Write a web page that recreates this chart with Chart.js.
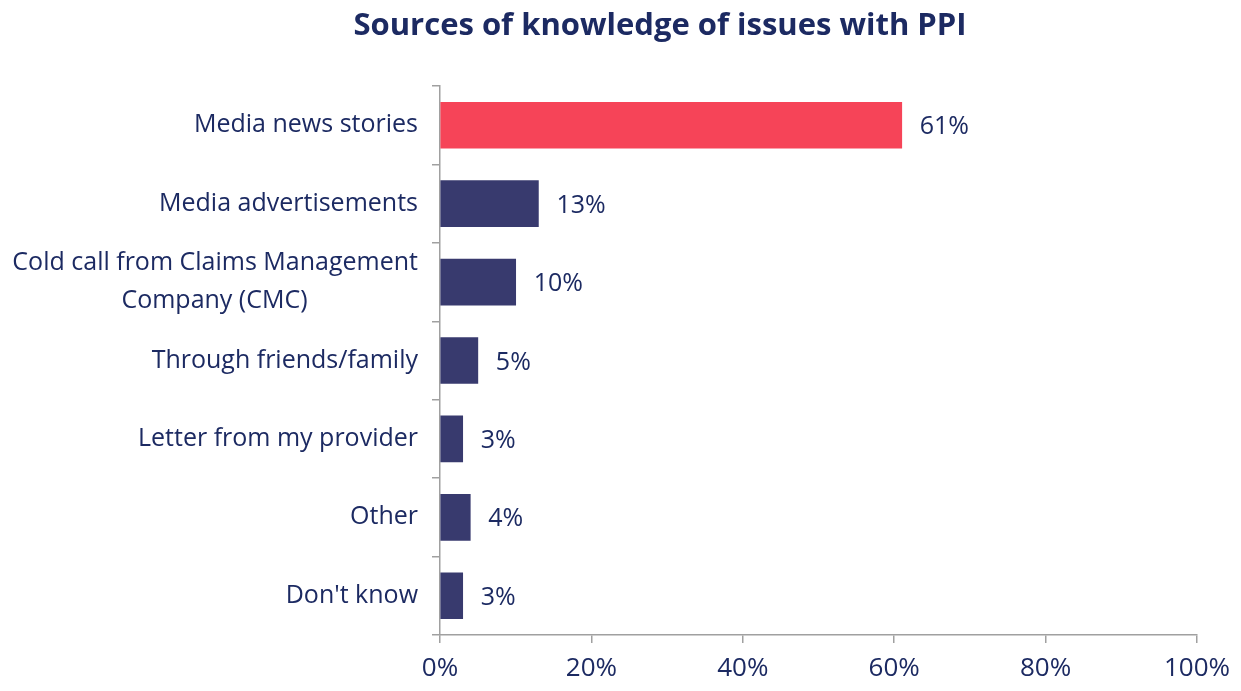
<!DOCTYPE html>
<html>
<head>
<meta charset="utf-8">
<script src="https://cdn.jsdelivr.net/npm/chart.js@4"></script>
<style>
  html, body { margin: 0; padding: 0; background: #fff; }
  #wrap { width: 1241px; height: 691px; }
</style>
</head>
<body>
<div id="wrap"><canvas id="chart" width="1241" height="691"></canvas></div>
<script>
// data
const sources = [
  'Media news stories',
  'Media advertisements',
  ['Cold call from Claims Management', 'Company (CMC)                 '],
  'Through friends/family',
  'Letter from my provider',
  'Other',
  "Don't know"
];
const shares = [61, 13, 10, 5, 3, 4, 3];
const xTicks = [0, 20, 40, 60, 80, 100];
const chartTitle = 'Sources of knowledge of issues with PPI';

const navy = '#383a6e';
const red = '#f64458';
const textCol = '#1c2a62';
const axisCol = '#a0a0a0';
const fontFam = '"Open Sans", "DejaVu Sans", sans-serif';

// draws "61%" etc. just past each bar, plus the title (sits right of centre in the original)
const valueLabels = {
  id: 'valueLabels',
  afterDatasetsDraw(chart) {
    const ctx = chart.ctx;
    const meta = chart.getDatasetMeta(0);
    ctx.save();
    ctx.fillStyle = textCol;
    ctx.font = '25px ' + fontFam;
    ctx.textAlign = 'left';
    ctx.textBaseline = 'middle';
    meta.data.forEach((bar, i) => {
      ctx.fillText(shares[i] + '%', bar.x + 18, bar.y + 2);
    });
    ctx.font = 'bold 31px ' + fontFam;
    ctx.textAlign = 'center';
    ctx.fillText(chartTitle, 660, 26);
    ctx.restore();
  }
};

new Chart(document.getElementById('chart').getContext('2d'), {
  type: 'bar',
  data: {
    labels: sources,
    datasets: [{
      data: shares,
      backgroundColor: shares.map((v, i) => i === 0 ? red : navy),
      barThickness: 46
    }]
  },
  options: {
    indexAxis: 'y',
    responsive: false,
    animation: false,
    layout: { padding: { right: 44, left: 0, top: 86, bottom: 0 } },
    plugins: {
      legend: { display: false },
      tooltip: { enabled: false },
      title: { display: false }
    },
    scales: {
      x: {
        min: 0,
        max: 100,
        afterBuildTicks(axis) { axis.ticks = xTicks.map(v => ({ value: v })); },
        afterFit(axis) { axis.height = 56; },
        border: { color: axisCol, width: 1.5 },
        grid: { drawOnChartArea: false, tickLength: 8, color: axisCol, lineWidth: 1.5 },
        ticks: {
          color: textCol,
          font: { family: fontFam, size: 26 },
          padding: 10,
          callback: v => v + '%'
        }
      },
      y: {
        afterFit(axis) { axis.width = 440; },
        border: { color: axisCol, width: 1.5 },
        grid: { drawOnChartArea: false, tickLength: 8, color: axisCol, lineWidth: 1.5, offset: true },
        ticks: {
          color: textCol,
          font: { family: fontFam, size: 25, lineHeight: 1.5 },
          padding: 14
        }
      }
    }
  },
  plugins: [valueLabels]
});
</script>
</body>
</html>
